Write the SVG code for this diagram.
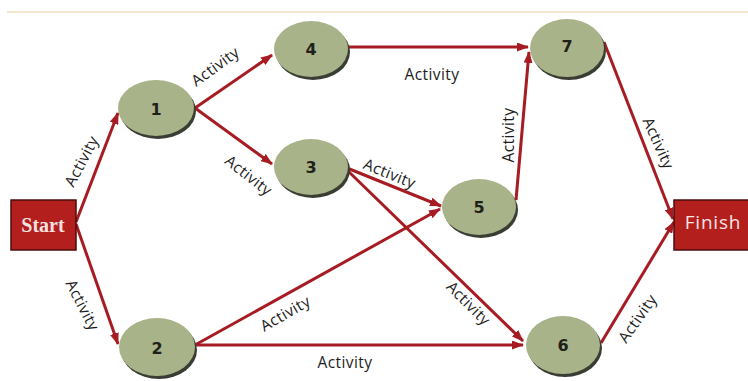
<svg xmlns="http://www.w3.org/2000/svg" width="748" height="381" viewBox="0 0 748 381">
  <style>
    .edge { stroke: #a61c22; stroke-width: 3; fill: none; marker-end: url(#arrow); }
    .lbl { font-family: "Open Sans", "Liberation Sans", sans-serif; font-size: 15.5px; fill: #1c1c1c; text-anchor: middle; dominant-baseline: central; letter-spacing: 0.4px; }
    .node { fill: #a9b38a; }
    .shadow { fill: #3a3d33; }
    .num { font-family: "DejaVu Sans", "Liberation Sans", sans-serif; font-weight: bold; font-size: 16px; fill: #1f2118; text-anchor: middle; dominant-baseline: central; }
    .box { fill: #b31f1d; stroke: #4a0c0c; stroke-width: 1.5; }
  </style>
  <defs>
    <marker id="arrow" markerUnits="userSpaceOnUse" markerWidth="12" markerHeight="9" refX="11" refY="4.5" orient="auto">
      <path d="M0,0 L12,4.5 L0,9 Z" fill="#a61c22"/>
    </marker>
  </defs>

  <rect width="748" height="381" fill="#ffffff"/>
  <!-- header rule -->
  <line x1="7" y1="12" x2="748" y2="12" stroke="#f3e8cf" stroke-width="2"/>

  <g id="connectors">
    <line class="edge" x1="76" y1="222" x2="118" y2="113"/>
    <line class="edge" x1="76" y1="224" x2="118" y2="344"/>
    <line class="edge" x1="195" y1="108" x2="272" y2="55"/>
    <line class="edge" x1="195" y1="108" x2="272" y2="164"/>
    <line class="edge" x1="348" y1="47" x2="528" y2="47"/>
    <line class="edge" x1="347" y1="168" x2="441" y2="206"/>
    <line class="edge" x1="347" y1="170" x2="523" y2="341"/>
    <line class="edge" x1="516" y1="200" x2="529" y2="52"/>
    <line class="edge" x1="604" y1="42" x2="673" y2="219"/>
    <line class="edge" x1="601" y1="343" x2="674" y2="222"/>
    <line class="edge" x1="195" y1="345" x2="440" y2="209"/>
    <line class="edge" x1="195" y1="345" x2="523" y2="345"/>

    <text class="lbl" transform="translate(81,161) rotate(-62)">Activity</text>
    <text class="lbl" transform="translate(83,305) rotate(63)">Activity</text>
    <text class="lbl" transform="translate(215,66) rotate(-36)">Activity</text>
    <text class="lbl" transform="translate(249,175) rotate(38)">Activity</text>
    <text class="lbl" x="432" y="74">Activity</text>
    <text class="lbl" transform="translate(390,173) rotate(22)">Activity</text>
    <text class="lbl" transform="translate(469,303) rotate(45)">Activity</text>
    <text class="lbl" transform="translate(508,135) rotate(-90)">Activity</text>
    <text class="lbl" transform="translate(659,143) rotate(66)">Activity</text>
    <text class="lbl" transform="translate(637,318) rotate(-55)">Activity</text>
    <text class="lbl" transform="translate(285,313) rotate(-30)">Activity</text>
    <text class="lbl" x="345" y="362">Activity</text>
  </g>

  <g id="start">
    <rect class="box" x="11" y="200" width="65" height="50"/>
    <text x="43" y="225" font-family="Liberation Serif, serif" font-weight="bold" font-size="20" fill="#f6e1e1" text-anchor="middle" dominant-baseline="central">Start</text>
  </g>
  <g id="finish">
    <rect class="box" x="674" y="200" width="76" height="50"/>
    <text x="713" y="222" font-family="Open Sans, Liberation Sans, sans-serif" font-size="19" letter-spacing="0.8" fill="#f8e4e4" text-anchor="middle" dominant-baseline="central">Finish</text>
  </g>

  <g id="n1">
    <ellipse class="shadow" cx="158" cy="111" rx="38" ry="28"/>
    <ellipse class="node" cx="156" cy="108" rx="38" ry="28"/>
    <text class="num" x="156" y="109">1</text>
  </g>
  <g id="n4">
    <ellipse class="shadow" cx="313" cy="52" rx="37" ry="28"/>
    <ellipse class="node" cx="311" cy="49" rx="37" ry="28"/>
    <text class="num" x="311" y="49">4</text>
  </g>
  <g id="n3">
    <ellipse class="shadow" cx="313" cy="170" rx="37" ry="28"/>
    <ellipse class="node" cx="311" cy="167" rx="37" ry="28"/>
    <text class="num" x="311" y="167">3</text>
  </g>
  <g id="n7">
    <ellipse class="shadow" cx="569" cy="51" rx="37" ry="29"/>
    <ellipse class="node" cx="567" cy="48" rx="37" ry="29"/>
    <text class="num" x="567" y="46">7</text>
  </g>
  <g id="n5">
    <ellipse class="shadow" cx="481" cy="210" rx="37" ry="28"/>
    <ellipse class="node" cx="479" cy="207" rx="37" ry="28"/>
    <text class="num" x="479" y="207">5</text>
  </g>
  <g id="n2">
    <ellipse class="shadow" cx="159" cy="350" rx="38" ry="29"/>
    <ellipse class="node" cx="157" cy="347" rx="38" ry="29"/>
    <text class="num" x="157" y="348">2</text>
  </g>
  <g id="n6">
    <ellipse class="shadow" cx="565" cy="348" rx="37" ry="29"/>
    <ellipse class="node" cx="563" cy="345" rx="37" ry="29"/>
    <text class="num" x="563" y="345">6</text>
  </g>
</svg>
